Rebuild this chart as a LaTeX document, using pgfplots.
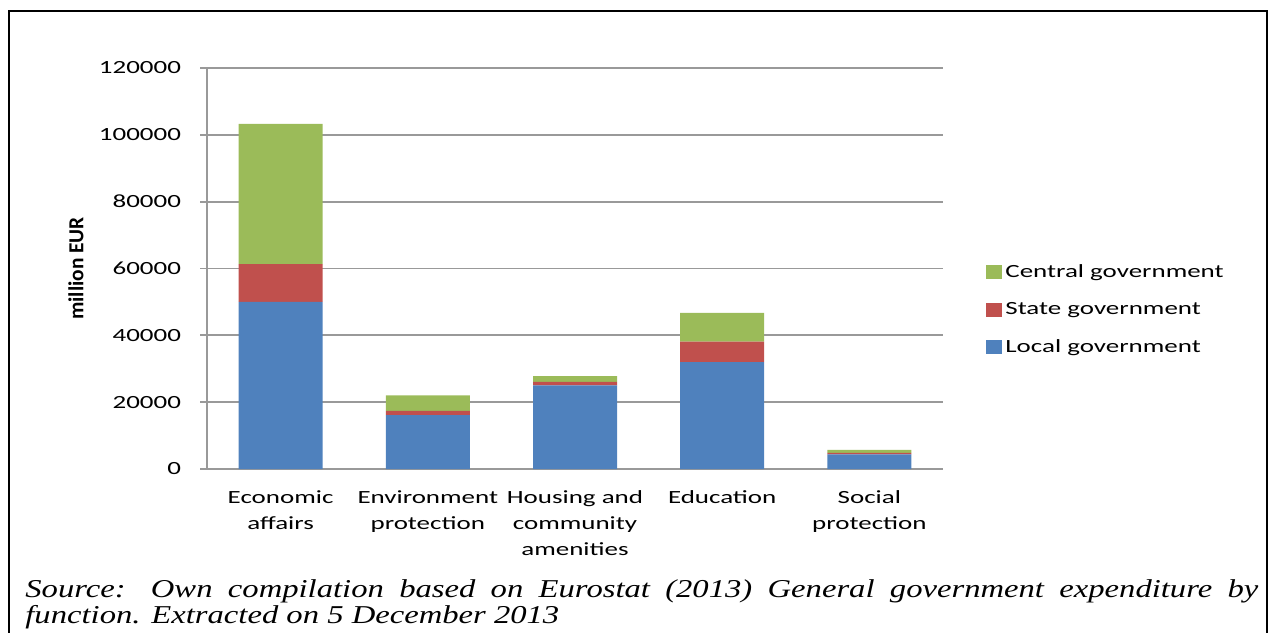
\documentclass[border=0pt]{standalone}
\usepackage{fontspec}
\usepackage{pgfplots}
\pgfplotsset{compat=1.18}
\setmainfont{Carlito}[FakeStretch=1.45]
\newfontfamily\ylabfont{Carlito}
\newfontfamily\srcfont{Liberation Serif}[FakeStretch=1.27]
\definecolor{cblue}{HTML}{4F81BD}
\definecolor{cred}{HTML}{C0504D}
\definecolor{cgreen}{HTML}{9BBB59}
\definecolor{cgrid}{HTML}{999999}
\begin{document}
\begin{tikzpicture}
\useasboundingbox (0,0) rectangle (636pt,316pt);
\draw[line width=1pt] (4.5pt,-5pt) -- (4.5pt,310.5pt) -- (633.5pt,310.5pt) -- (633.5pt,-5pt);
\begin{axis}[
  at={(103.5pt,81.5pt)}, anchor=south west,
  scale only axis, width=368pt, height=200.5pt,
  ybar stacked, bar width=42pt,
  xmin=-0.5, xmax=4.5, ymin=0, ymax=120000,
  axis x line=bottom, axis y line=left,
  axis line style={-, draw=cgrid, line width=0.9pt},
  xtick={0,1,2,3,4},
  xticklabels={{Economic\\affairs},{Environment\\protection},{Housing and\\community\\amenities},{Education},{Social\\protection}},
  xticklabel style={align=center, font=\fontsize{9.3}{13}\selectfont, yshift=-4pt},
  major x tick style={draw=none},
  ytick={0,20000,40000,60000,80000,100000,120000},
  yticklabels={0,20000,40000,60000,80000,100000,120000},
  scaled y ticks=false,
  tick align=outside, major tick length=3.5pt,
  major y tick style={draw=cgrid, line width=0.9pt},
  yticklabel style={font=\fontsize{9.3}{11}\selectfont, xshift=-6pt},
  ymajorgrids, grid style={draw=cgrid, line width=0.9pt},
  ylabel={million EUR},
  ylabel style={at={(axis description cs:-0.178,0.5)}, anchor=center, font=\ylabfont\bfseries\fontsize{10.7}{12}\selectfont},
  legend style={at={(axis description cs:1.0584,0.397)}, anchor=west, draw=none, fill=none, font=\fontsize{9.3}{11}\selectfont, row sep=8pt, inner sep=0pt, nodes={inner sep=1.5pt}},
  legend cell align=left,
  reverse legend,
  legend image code/.code={\fill[#1] (0pt,-3.5pt) rectangle (8pt,3.5pt);},
]
\addplot[fill=cblue, draw=none] coordinates {(0,50000) (1,16100) (2,25000) (3,32000) (4,4400)};
\addplot[fill=cred, draw=none] coordinates {(0,11300) (1,1300) (2,1100) (3,6100) (4,400)};
\addplot[fill=cgreen, draw=none] coordinates {(0,42000) (1,4600) (2,1700) (3,8600) (4,900)};
\legend{Local government, State government, Central government}
\end{axis}
\node[anchor=base west, text width=616.5pt, align=justify, inner sep=0pt, font=\srcfont\itshape\fontsize{12.85}{13}\selectfont] at (12.5pt,17.5pt) {Source: Own compilation based on Eurostat (2013) General government expenditure by\linebreak function. Extracted on 5 December 2013};
\end{tikzpicture}
\end{document}
